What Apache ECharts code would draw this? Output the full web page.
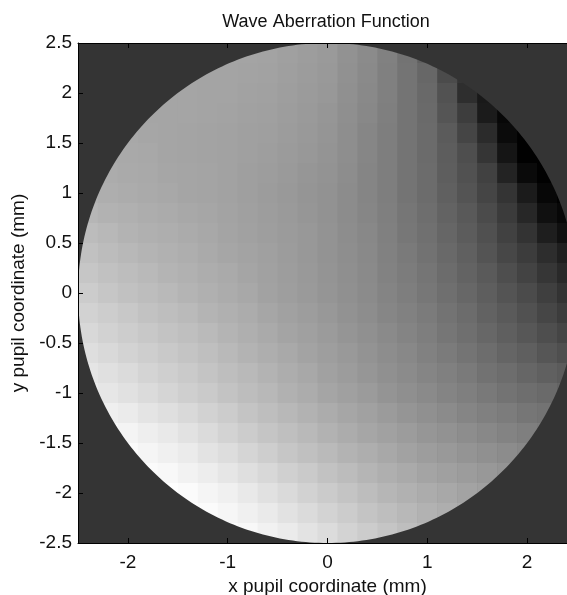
<!DOCTYPE html>
<html>
<head>
<meta charset="utf-8">
<title>Wave Aberration Function</title>
<script src="https://cdn.jsdelivr.net/npm/echarts@6.0.0/dist/echarts.min.js"></script>
<style>
  html, body { margin: 0; padding: 0; background: #ffffff; }
  #chart { width: 567px; height: 595px; }
</style>
</head>
<body>
<div id="chart"></div>
<script>
// Pupil sampling: cell centres in mm (0.2 mm pitch)
const cellX = [-2.4, -2.2, -2.0, -1.8, -1.6, -1.4, -1.2, -1.0, -0.8, -0.6, -0.4, -0.2, 0,
               0.2, 0.4, 0.6, 0.8, 1.0, 1.2, 1.4, 1.6, 1.8, 2.0, 2.2, 2.4];
const cellY = [2.4, 2.2, 2.0, 1.8, 1.6, 1.4, 1.2, 1.0, 0.8, 0.6, 0.4, 0.2, 0,
               -0.2, -0.4, -0.6, -0.8, -1.0, -1.2, -1.4, -1.6, -1.8, -2.0, -2.2, -2.4];

// Pupil radius (mm) and axis ticks
const pupilRadius = 2.5;
const xTickValues = [-2, -1, 0, 1, 2];

// Wavefront samples (relative units), one row per cellY, one column per cellX.
// Cells that lie completely outside the pupil are left empty.
const _ = null;
const waveRows = [
  [_,_,_,_,_,_,_,160,159,158,155,152,149,142,135,126,113,95,_,_,_,_,_,_,_],
  [_,_,_,_,_,160,159,159,158,157,154,151,148,141,134,125,114,102,75,55,_,_,_,_,_],
  [_,_,_,_,160,160,159,159,157,156,153,150,147,140,133,125,114,103,82,48,28,_,_,_,_],
  [_,_,_,160,160,160,159,158,156,155,152,149,146,139,132,124,114,104,85,62,30,12,_,_,_],
  [_,_,162,161,160,159,158,157,155,154,151,148,145,138,131,123,114,105,90,70,45,15,6,_,_],
  [_,164,163,162,160,159,158,157,155,153,150,147,144,138,131,123,114,105,92,78,55,25,6,5,_],
  [_,166,164,163,161,160,159,157,154,152,149,146,143,137,130,123,114,106,93,81,66,38,14,6,_],
  [171,168,166,164,162,160,159,157,154,151,148,145,142,136,130,123,114,106,95,84,70,54,30,12,6],
  [176,172,170,167,165,162,161,158,155,152,149,146,142,136,131,124,116,108,98,88,75,60,42,20,12],
  [181,177,173,170,168,165,162,159,156,153,150,147,143,137,132,125,117,110,101,91,80,66,53,33,20],
  [186,181,177,174,171,168,164,161,158,155,151,147,143,138,133,126,119,112,103,95,84,72,61,47,34],
  [191,186,182,178,174,171,167,164,160,156,152,148,144,139,134,127,121,115,106,98,89,78,68,56,43],
  [196,191,186,182,178,174,170,166,162,157,153,149,145,140,135,129,123,117,109,102,93,84,75,64,53],
  [202,197,192,187,183,179,174,170,166,161,156,152,147,142,137,131,126,120,113,106,97,89,81,71,61],
  [207,202,197,192,188,184,179,174,169,164,159,155,150,145,140,134,129,123,116,109,102,94,87,78,70],
  [213,208,203,198,193,189,184,178,173,168,163,158,153,148,143,137,132,126,120,114,107,100,94,86,79],
  [220,215,210,204,199,194,189,183,178,173,167,162,156,151,146,140,135,130,125,119,112,107,101,95,90],
  [226,221,216,210,205,199,194,188,182,177,171,166,160,155,150,144,139,134,129,124,118,113,108,104,100],
  [_,229,225,219,214,208,202,196,189,183,177,172,166,161,156,150,145,140,135,130,125,121,116,113,_],
  [_,237,234,228,223,217,210,203,196,190,184,178,172,166,161,156,151,146,142,137,132,128,124,122,_],
  [_,_,240,235,230,225,218,212,205,198,191,185,179,173,168,162,157,152,148,144,140,136,132,_,_],
  [_,_,_,240,237,232,227,221,214,207,200,194,187,181,175,169,164,159,155,151,147,144,_,_,_],
  [_,_,_,_,243,240,235,230,223,216,209,202,195,189,182,176,171,166,162,158,155,_,_,_,_],
  [_,_,_,_,_,244,240,236,230,224,217,210,203,196,189,183,177,172,168,164,_,_,_,_,_],
  [_,_,_,_,_,_,_,242,237,231,225,218,211,203,196,190,183,177,_,_,_,_,_,_,_]
];

// Flatten into [x, y, value] triples for the cell series
const cells = [];
waveRows.forEach((row, j) => {
  row.forEach((v, i) => {
    if (v !== null) cells.push([cellX[i], cellY[j], v]);
  });
});
const values = cells.map(c => c[2]);
const halfStep = (cellX[1] - cellX[0]) / 2;

const FONT = '"Liberation Sans", Arial, Helvetica, sans-serif';
const INK = '#111111';
const OUTSIDE = '#343434';

const chart = echarts.init(document.getElementById('chart'), null, { renderer: 'canvas' });

const axisCommon = {
  type: 'value',
  min: -pupilRadius,
  max: pupilRadius,
  z: 10,
  splitLine: { show: false },
  axisLine: { show: true, onZero: false, lineStyle: { color: '#000', width: 1 } },
  axisTick: { show: true, inside: true, length: 5, lineStyle: { color: '#000', width: 1 } }
};

chart.setOption({
  animation: false,
  backgroundColor: '#ffffff',
  title: {
    text: 'Wave Aberration Function',
    left: 321,
    top: 8,
    textAlign: 'center',
    textStyle: { fontFamily: FONT, fontSize: 18, fontWeight: 'normal', color: INK }
  },
  grid: {
    left: 78, top: 43, width: 499, height: 500,
    show: true, backgroundColor: OUTSIDE, borderWidth: 0,
    containLabel: false, outerBoundsMode: 'none'
  },
  visualMap: {
    show: false,
    type: 'continuous',
    seriesIndex: 0,
    dimension: 2,
    min: Math.min.apply(null, values),
    max: Math.max.apply(null, values),
    inRange: { color: ['#000000', '#ffffff'] }
  },
  xAxis: [
    Object.assign({}, axisCommon, {
      position: 'bottom',
      name: 'x pupil coordinate (mm)',
      nameLocation: 'middle',
      nameGap: 31,
      nameTextStyle: { fontFamily: FONT, fontSize: 19, color: INK },
      axisTick: Object.assign({}, axisCommon.axisTick, { customValues: xTickValues }),
      axisLabel: { customValues: xTickValues, margin: 10, fontFamily: FONT, fontSize: 19, color: INK }
    }),
    Object.assign({}, axisCommon, {
      position: 'top',
      axisTick: Object.assign({}, axisCommon.axisTick, { customValues: xTickValues }),
      axisLabel: { show: false }
    })
  ],
  yAxis: [
    Object.assign({}, axisCommon, {
      position: 'left',
      interval: 0.5,
      name: 'y pupil coordinate (mm)',
      nameLocation: 'middle',
      nameGap: 47,
      nameTextStyle: { fontFamily: FONT, fontSize: 19, color: INK },
      axisLabel: { margin: 6, fontFamily: FONT, fontSize: 19, color: INK }
    })
  ],
  series: [
    {
      // wavefront cells
      type: 'custom',
      xAxisIndex: 0,
      yAxisIndex: 0,
      clip: true,
      z: 2,
      data: cells,
      encode: { x: 0, y: 1 },
      renderItem: function (params, api) {
        const x = api.value(0), y = api.value(1);
        const p0 = api.coord([x - halfStep, y + halfStep]);
        const p1 = api.coord([x + halfStep, y - halfStep]);
        return {
          type: 'rect',
          shape: { x: p0[0], y: p0[1], width: p1[0] - p0[0] + 0.6, height: p1[1] - p0[1] + 0.6 },
          style: { fill: api.visual('color'), stroke: null }
        };
      }
    },
    {
      // area outside the pupil aperture
      type: 'custom',
      xAxisIndex: 0,
      yAxisIndex: 0,
      clip: true,
      z: 3,
      silent: true,
      data: [[0, 0]],
      encode: { x: 0, y: 1 },
      renderItem: function (params, api) {
        const cs = params.coordSys;
        const x0 = cs.x, y0 = cs.y, x1 = cs.x + cs.width, y1 = cs.y + cs.height;
        let d = 'M' + x0 + ' ' + y0 + 'L' + x1 + ' ' + y0 + 'L' + x1 + ' ' + y1 + 'L' + x0 + ' ' + y1 + 'Z';
        const cx = api.value(0), cy = api.value(1);
        const n = 360;
        for (let k = 0; k <= n; k++) {
          const t = 2 * Math.PI * k / n;
          const p = api.coord([cx + pupilRadius * Math.cos(t), cy + pupilRadius * Math.sin(t)]);
          d += (k === 0 ? 'M' : 'L') + p[0].toFixed(2) + ' ' + p[1].toFixed(2);
        }
        d += 'Z';
        return {
          type: 'path',
          shape: { pathData: d },
          style: { fill: OUTSIDE, stroke: null }
        };
      }
    }
  ]
});
</script>
</body>
</html>
